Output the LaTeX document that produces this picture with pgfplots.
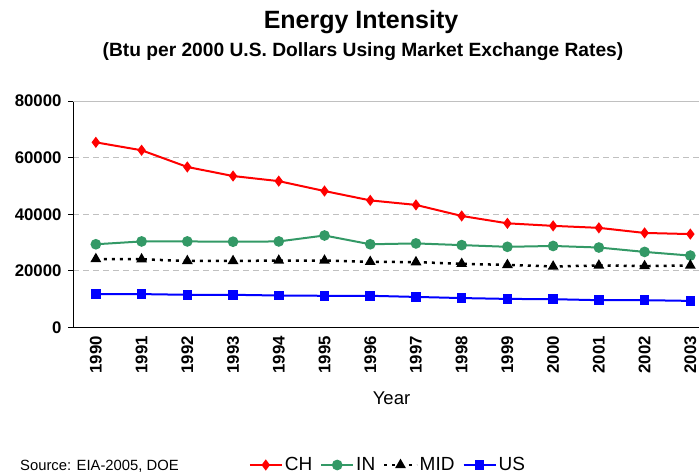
\documentclass[border=0pt]{standalone}
\usepackage{pgfplots}
\pgfplotsset{compat=1.18}
\usepackage{fontspec}
\setmainfont{Liberation Sans}
\definecolor{chred}{RGB}{255,0,0}
\definecolor{ingreen}{RGB}{51,153,102}
\definecolor{usblue}{RGB}{0,0,255}
\definecolor{gridgray}{RGB}{192,192,192}
\begin{document}
\begin{tikzpicture}[x=1bp,y=1bp]
\useasboundingbox (0,0) rectangle (699,-474);
\begin{axis}[
  at={(73bp,-327.5bp)}, anchor=south west,
  scale only axis, width=626bp, height=226.5bp,
  xmin=-0.5, xmax=13.19, ymin=0, ymax=80000,
  axis x line=bottom, axis y line=left,
  axis line style={black, line width=1bp, -},
  xtick={0,...,13},
  xticklabels={1990,1991,1992,1993,1994,1995,1996,1997,1998,1999,2000,2001,2002,2003},
  major x tick style={draw=none},
  extra x ticks={-0.5,0.5,1.5,2.5,3.5,4.5,5.5,6.5,7.5,8.5,9.5,10.5,11.5,12.5},
  extra x tick labels={},
  extra x tick style={major tick length=5bp, tick style={black, line width=1bp}, tick align=outside},
  ytick={0,20000,40000,60000,80000},
  tick align=outside, major tick length=5bp,
  tick style={black, line width=1bp},
  ymajorgrids, grid style={gridgray, dash pattern=on 6bp off 4bp, line width=1bp},
  /pgf/number format/assume math mode=true,
  /pgf/number format/1000 sep={},
  scaled y ticks=false,
  yticklabel style={font=\fontsize{16.8bp}{18bp}\selectfont\bfseries, xshift=-3bp},
  xticklabel style={font=\fontsize{16.8bp}{18bp}\selectfont\bfseries, rotate=90, anchor=east, inner ysep=1bp},
  clip=false,
  legend columns=4,
  legend style={draw=none, fill=none, at={(0.503,-0.607)}, anchor=center,
    font=\fontsize{19bp}{21bp}\selectfont,
    nodes={inner sep=2bp},
    /tikz/every even column/.append style={column sep=6bp}},
  legend image code/.code={
    \draw[#1, mark repeat=2, mark phase=2] plot coordinates {(0bp,0bp) (16bp,0bp) (32bp,0bp)};
  },
]
\draw[gridgray, line width=1bp] (axis cs:-0.5,80000) -- (axis cs:13.19,80000);
\addplot[chred, line width=2bp, mark=diamond*, mark size=4bp, mark options={solid}] coordinates {
(0,65400) (1,62600) (2,56700) (3,53500) (4,51700) (5,48200) (6,44900) (7,43300) (8,39400) (9,36800) (10,35900) (11,35200) (12,33400) (13,33000)};
\addlegendentry{CH}
\addplot[ingreen, line width=2bp, mark=*, mark size=4.3bp, mark options={solid}] coordinates {
(0,29400) (1,30400) (2,30400) (3,30300) (4,30400) (5,32500) (6,29400) (7,29700) (8,29100) (9,28500) (10,28800) (11,28250) (12,26700) (13,25400)};
\addlegendentry{IN}
\addplot[black, line width=2.5bp, dash pattern=on 3bp off 5bp, mark=triangle*, mark size=3.8bp, mark options={solid}] coordinates {
(0,24200) (1,24100) (2,23500) (3,23500) (4,23650) (5,23650) (6,23200) (7,23100) (8,22500) (9,22100) (10,21550) (11,21900) (12,21700) (13,21900)};
\addlegendentry{MID}
\addplot[usblue, line width=2bp, mark=square*, mark size=3.8bp, mark options={solid}] coordinates {
(0,11800) (1,11800) (2,11550) (3,11550) (4,11300) (5,11200) (6,11200) (7,10800) (8,10400) (9,10100) (10,10000) (11,9650) (12,9650) (13,9400)};
\addlegendentry{US}
\end{axis}
\node[anchor=base, font=\fontsize{25bp}{28bp}\selectfont\bfseries] at (361,-29) {Energy Intensity};
\node[anchor=base, font=\fontsize{19.2bp}{22bp}\selectfont\bfseries] at (363,-57) {(Btu per 2000 U.S. Dollars Using Market Exchange Rates)};
\node[anchor=base, font=\fontsize{18.5bp}{21bp}\selectfont] at (391.5,-404) {Year};
\node[anchor=base west, font=\fontsize{14.8bp}{17bp}\selectfont, inner sep=0pt] at (20,-470) {Source: EIA-2005, DOE};
\end{tikzpicture}
\end{document}
